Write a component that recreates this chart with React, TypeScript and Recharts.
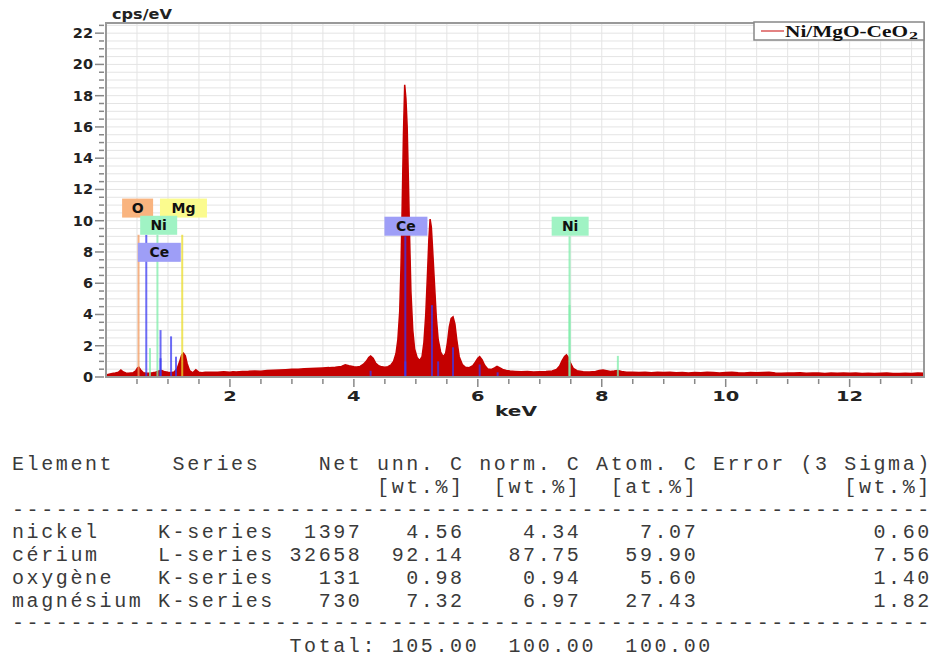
import {
  Area,
  ComposedChart,
  XAxis,
  YAxis,
  CartesianGrid,
  ReferenceLine,
  ReferenceDot,
  ReferenceArea,
} from "recharts"

// EDS spectrum, cps/eV against energy (keV)
const spectrumKeV = [
  0.0, 0.05, 0.1, 0.15, 0.2, 0.24, 0.28, 0.32, 0.36, 0.4, 0.44, 0.48, 0.51, 0.53, 0.56, 0.6, 0.65, 0.7, 0.75, 0.8,
  0.85, 0.9, 0.95, 1.0, 1.05, 1.1, 1.15, 1.19, 1.22, 1.25, 1.28, 1.31, 1.35, 1.4, 1.45, 1.5, 1.55, 1.6, 1.7, 1.8,
  1.9, 2.0, 2.05, 2.1, 2.2, 2.3, 2.4, 2.5, 2.6, 2.7, 2.8, 2.9, 3.0, 3.1, 3.2, 3.3, 3.4, 3.5, 3.6, 3.7,
  3.8, 3.86, 3.92, 4.0, 4.05, 4.1, 4.15, 4.2, 4.24, 4.27, 4.31, 4.35, 4.4, 4.45, 4.5, 4.55, 4.6, 4.64, 4.68, 4.71,
  4.74, 4.76, 4.78, 4.8, 4.82, 4.84, 4.86, 4.88, 4.9, 4.92, 4.95, 4.98, 5.02, 5.06, 5.1, 5.13, 5.16, 5.19, 5.21, 5.23,
  5.25, 5.27, 5.3, 5.33, 5.36, 5.4, 5.44, 5.48, 5.51, 5.54, 5.57, 5.6, 5.63, 5.66, 5.7, 5.75, 5.8, 5.86, 5.92, 5.96,
  6.0, 6.03, 6.07, 6.11, 6.16, 6.22, 6.27, 6.31, 6.35, 6.4, 6.46, 6.52, 6.6, 6.7, 6.8, 6.9, 7.0, 7.1, 7.2, 7.27,
  7.32, 7.36, 7.4, 7.43, 7.46, 7.5, 7.54, 7.6, 7.7, 7.8, 7.9, 7.96, 8.02, 8.08, 8.14, 8.2, 8.26, 8.32, 8.4, 8.5,
  8.6, 8.7, 8.8, 8.9, 9.0, 9.1, 9.2, 9.3, 9.4, 9.5, 9.6, 9.7, 9.8, 9.9, 10.0, 10.1, 10.2, 10.3, 10.4, 10.5,
  10.6, 10.7, 10.8, 10.9, 11.0, 11.1, 11.2, 11.3, 11.4, 11.5, 11.6, 11.7, 11.8, 11.9, 12.0, 12.1, 12.2, 12.3, 12.4, 12.5,
  12.6, 12.7, 12.8, 12.9, 13.0, 13.1, 13.2,
]
const spectrumCps = [
  0.12, 0.18, 0.22, 0.25, 0.3, 0.45, 0.32, 0.26, 0.24, 0.26, 0.28, 0.4, 0.58, 0.62, 0.45, 0.28, 0.24, 0.25, 0.27, 0.3,
  0.38, 0.42, 0.33, 0.3, 0.28, 0.32, 0.55, 1.0, 1.4, 1.52, 1.35, 0.85, 0.4, 0.27, 0.46, 0.3, 0.28, 0.3, 0.31, 0.3,
  0.33, 0.3, 0.34, 0.32, 0.35, 0.36, 0.38, 0.37, 0.41, 0.43, 0.45, 0.47, 0.49, 0.5, 0.52, 0.54, 0.56, 0.58, 0.6, 0.63,
  0.68, 0.78, 0.72, 0.66, 0.64, 0.68, 0.8, 1.0, 1.25, 1.35, 1.2, 0.9, 0.72, 0.65, 0.62, 0.66, 0.78, 1.0, 1.5, 2.4,
  4.2, 7.0, 11.0, 15.5, 18.7, 17.8, 16.0, 12.5, 8.8, 5.5, 3.0, 1.8, 1.25, 1.05, 1.3, 2.2, 4.0, 6.8, 8.8, 10.1,
  9.6, 8.2, 6.0, 3.8, 2.4, 1.6, 1.3, 1.5, 2.2, 3.2, 3.75, 3.85, 3.4, 2.4, 1.3, 0.8, 0.62, 0.6, 0.72, 0.95,
  1.2, 1.3, 1.1, 0.75, 0.52, 0.48, 0.58, 0.68, 0.6, 0.48, 0.42, 0.38, 0.36, 0.34, 0.35, 0.32, 0.34, 0.35, 0.38, 0.48,
  0.7, 1.05, 1.32, 1.42, 1.25, 0.85, 0.55, 0.4, 0.34, 0.32, 0.35, 0.42, 0.44, 0.4, 0.36, 0.38, 0.42, 0.35, 0.31, 0.3,
  0.28, 0.3, 0.27, 0.3, 0.28, 0.3, 0.27, 0.29, 0.26, 0.28, 0.27, 0.3, 0.28, 0.26, 0.28, 0.3, 0.27, 0.26, 0.28, 0.27,
  0.29, 0.3, 0.25, 0.24, 0.26, 0.25, 0.27, 0.24, 0.26, 0.25, 0.23, 0.25, 0.24, 0.26, 0.24, 0.25, 0.23, 0.24, 0.22, 0.24,
  0.25, 0.23, 0.22, 0.24, 0.23, 0.25, 0.24,
]

// element line markers (energy, height in cps/eV, element)
const markerKeV = [0.525, 0.65, 0.71, 0.83, 0.88, 0.88, 1.05, 1.13, 1.23, 4.27, 4.83, 4.83, 5.26, 5.36, 5.6, 6.03, 6.32, 7.48, 7.48, 8.26]
const markerTop = [9.1, 9.1, 1.85, 9.1, 3.0, 1.2, 2.6, 1.3, 9.1, 0.4, 9.0, 1.0, 4.6, 1.0, 1.9, 0.8, 0.3, 9.0, 4.6, 1.35]
const markerElement = ["O", "Ce", "Ni", "Ni", "Ce", "Ce", "Ce", "Ce", "Mg", "Ce", "Ce", "Ce", "Ce", "Ce", "Ce", "Ce", "Ce", "Ni", "Ni", "Ni"]

// element name tags
const tagText = ["O", "Mg", "Ni", "Ce", "Ce", "Ni"]
const tagKeV = [0.51, 1.25, 0.85, 0.86, 4.84, 7.49]
const tagBase = [10.2, 10.2, 9.1, 7.37, 9.04, 9.04]

const xLabelTicks = [2, 4, 6, 8, 10, 12]
const yLabelTicks = [0, 2, 4, 6, 8, 10, 12, 14, 16, 18, 20, 22]

const seriesName = "Ni/MgO-CeO"

// quantification table
const tableElement = ["nickel", "cérium", "oxygène", "magnésium"]
const tableSeries = ["K-series", "L-series", "K-series", "K-series"]
const tableNet = ["1397", "32658", "131", "730"]
const tableUnn = ["4.56", "92.14", "0.98", "7.32"]
const tableNorm = ["4.34", "87.75", "0.94", "6.97"]
const tableAtom = ["7.07", "59.90", "5.60", "27.43"]
const tableError = ["0.60", "7.56", "1.40", "1.82"]
const tableTotals = ["105.00", "100.00", "100.00"]

const lineColor: Record<string, string> = { O: "#f39a5e", Mg: "#eadc2a", Ni: "#7eeeaa", Ce: "#3a3af2" }
const tagColor: Record<string, string> = { O: "#f9b47f", Mg: "#fbfb8e", Ni: "#a0f3c4", Ce: "#9e9ef7" }
const tagWidth: Record<string, number> = { O: 31, Mg: 47, Ni: 37, Ce: 43 }

const X_MAX = 13.2
const Y_MAX = 22.65
const xTicks = Array.from({ length: 26 }, (_, i) => (i + 1) * 0.5)
const yTicks = Array.from({ length: 46 }, (_, i) => i * 0.5)

const chartData = spectrumKeV.map((e, i) => ({ keV: e, cps: spectrumCps[i] }))

const FONT = "'DejaVu Sans', Verdana, sans-serif"

function XTick(props: any) {
  const { x, y, payload } = props
  const v = payload.value
  const major = xLabelTicks.includes(v)
  return (
    <g>
      <line x1={x} x2={x} y1={y} y2={y + (major ? 8 : 5)} stroke="#888" strokeWidth={1.5} />
      {major && (
        <text
          x={x}
          y={y + 22}
          textAnchor="middle"
          fontFamily={FONT}
          fontWeight="bold"
          fontSize={14}
          fill="#222"
          textLength={String(v).length * 13.5}
          lengthAdjust="spacingAndGlyphs"
        >
          {v}
        </text>
      )}
    </g>
  )
}

function YTick(props: any) {
  const { x, y, payload } = props
  const v = payload.value
  const major = yLabelTicks.includes(v)
  return (
    <g>
      <line x1={x - (major ? 9 : 5)} x2={x} y1={y} y2={y} stroke="#888" strokeWidth={1.5} />
      {major && (
        <text x={x - 11} y={y + 5} textAnchor="end" fontFamily={FONT} fontWeight="bold" fontSize={14.5} fill="#222">
          {v}
        </text>
      )}
    </g>
  )
}

function Tag({ cx, cy, label }: any) {
  const w = tagWidth[label]
  return (
    <g>
      <rect x={cx - w / 2} y={cy - 19} width={w} height={19} fill={tagColor[label]} />
      <text x={cx} y={cy - 4.5} textAnchor="middle" fontFamily={FONT} fontWeight="bold" fontSize={14} fill="#111">
        {label}
      </text>
    </g>
  )
}

function pad(s: string, n: number) {
  return s.padStart(n, " ")
}

export default function App() {
  const rows = [
    "Element    Series    Net unn. C norm. C Atom. C Error (3 Sigma)",
    " ".repeat(25) + "[wt.%]  [wt.%]  [at.%]" + " ".repeat(10) + "[wt.%]",
    "-".repeat(63),
    ...tableElement.map(
      (el, i) =>
        el.padEnd(10, " ") +
        tableSeries[i] +
        pad(tableNet[i], 6) +
        pad(tableUnn[i], 7) +
        pad(tableNorm[i], 8) +
        pad(tableAtom[i], 8) +
        pad(tableError[i], 16)
    ),
    "-".repeat(63),
    " ".repeat(19) + "Total:" + pad(tableTotals[0], 7) + pad(tableTotals[1], 8) + pad(tableTotals[2], 8),
  ]

  return (
    <div style={{ position: "absolute", left: 0, top: 0, width: 936, height: 658, background: "#fff" }}>
      <ComposedChart width={936} height={430} data={chartData} margin={{ top: 23, right: 12, left: 0, bottom: 13 }}>
        <CartesianGrid stroke="#e4e4e4" strokeWidth={1} />
        <XAxis
          dataKey="keV"
          type="number"
          domain={[0, X_MAX]}
          ticks={xTicks}
          interval={0}
          tickSize={0}
          tickLine={false}
          tick={<XTick />}
          axisLine={{ stroke: "#999", strokeWidth: 2 }}
          height={40}
          allowDataOverflow
        />
        <YAxis
          type="number"
          domain={[0, Y_MAX]}
          ticks={yTicks}
          interval={0}
          tickSize={0}
          tickLine={false}
          tick={<YTick />}
          axisLine={{ stroke: "#999", strokeWidth: 2 }}
          width={106}
          allowDataOverflow
        />
        <Area
          type="linear"
          dataKey="cps"
          stroke="#c40000"
          strokeWidth={1.5}
          fill="#c40000"
          fillOpacity={1}
          isAnimationActive={false}
          dot={false}
          activeDot={false}
        />
        {markerKeV.map((e, i) => (
          <ReferenceLine
            key={"m" + i}
            segment={[
              { x: e, y: 0 },
              { x: e, y: markerTop[i] },
            ]}
            stroke={lineColor[markerElement[i]]}
            strokeWidth={2}
            strokeOpacity={0.75}
          />
        ))}
        {tagText.map((t, i) => (
          <ReferenceDot
            key={"t" + i}
            x={tagKeV[i]}
            y={tagBase[i]}
            r={0}
            shape={(p: any) => <Tag cx={p.cx} cy={p.cy} label={t} />}
          />
        ))}
        <ReferenceArea x1={0} x2={X_MAX} y1={0} y2={Y_MAX} fill="none" stroke="#999" strokeWidth={2} />
      </ComposedChart>

      <svg style={{ position: "absolute", left: 0, top: 0, pointerEvents: "none" }} width={936} height={430}>
        <text
          x={112}
          y={19}
          fontFamily={FONT}
          fontWeight="bold"
          fontSize={14}
          fill="#222"
          textLength={60}
          lengthAdjust="spacingAndGlyphs"
        >
          cps/eV
        </text>
        <text
          x={516}
          y={416}
          textAnchor="middle"
          fontFamily={FONT}
          fontWeight="bold"
          fontSize={14}
          fill="#222"
          textLength={42}
          lengthAdjust="spacingAndGlyphs"
        >
          keV
        </text>
        <rect x={754} y={22} width={170} height={18} fill="#fff" stroke="#888" strokeWidth={1.5} />
        <line x1={761} x2={784} y1={31} y2={31} stroke="#d03030" strokeWidth={1.2} />
        <text
          x={785}
          y={37}
          fontFamily="'Liberation Serif', 'Times New Roman', serif"
          fontWeight="bold"
          fontSize={17}
          fill="#111"
          textLength={123}
          lengthAdjust="spacingAndGlyphs"
        >
          {seriesName}
        </text>
        <text
          x={909}
          y={39}
          fontFamily="'Liberation Serif', 'Times New Roman', serif"
          fontWeight="bold"
          fontSize={11}
          fill="#111"
          textLength={9}
          lengthAdjust="spacingAndGlyphs"
        >
          2
        </text>
      </svg>

      <pre
        style={{
          position: "absolute",
          left: 12,
          top: 454,
          margin: 0,
          fontFamily: "'Liberation Mono', 'Courier New', monospace",
          fontSize: 20,
          lineHeight: "22.75px",
          letterSpacing: "2.6px",
          color: "#3a3a3a",
        }}
      >
        {rows.join("\n")}
      </pre>
    </div>
  )
}
